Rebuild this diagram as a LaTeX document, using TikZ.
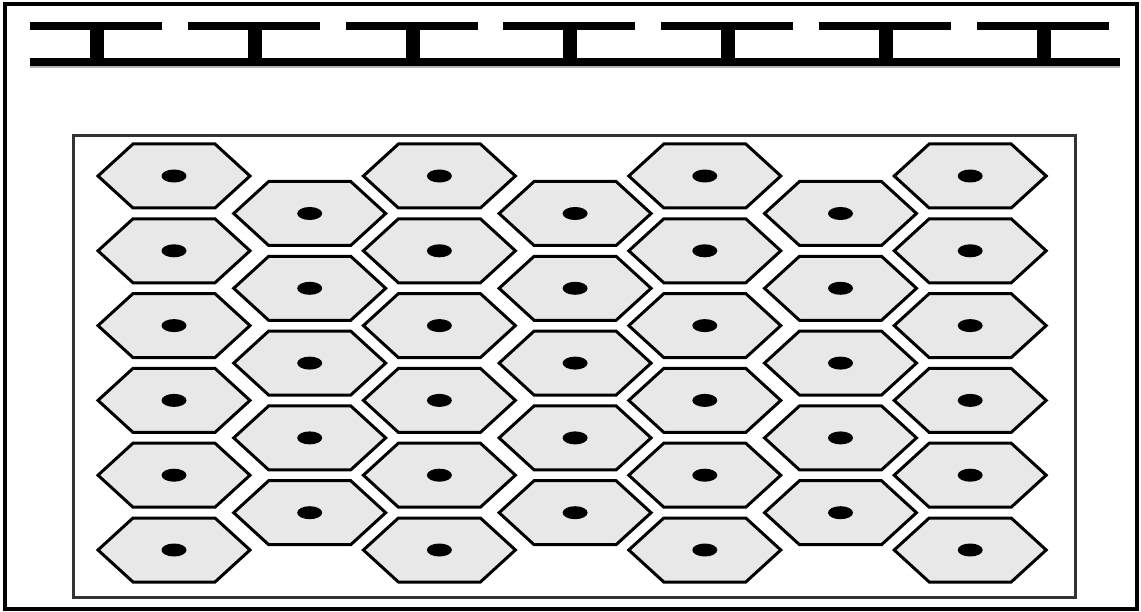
\documentclass[tikz,border=0pt]{standalone}
\usepackage{tikz}
\tikzset{
  frame/.style={draw=black, line width=3.4pt},
  innerbox/.style={draw=black!80, line width=3pt},
  cellline/.style={draw=black, line width=3pt, fill=black!9, line join=miter},
  hexcell/.pic={
    \draw[cellline] (-76,0) -- (-41,-32) -- (41,-32) -- (76,0) -- (41,32) -- (-41,32) -- cycle;
    \fill[black] (0,0) ellipse (12.5pt and 6.5pt);
  }
}

\begin{document}
\begin{tikzpicture}[x=1pt, y=-1pt]
  \useasboundingbox (0,0) rectangle (1141,612);
  % outer frame
  \draw[frame] (5,4) rectangle (1137,609);
  % rail at the top
  \foreach \i in {0,...,6} {
    \fill (30+157.8*\i,22) rectangle ++(132,8);
    \fill (90+157.8*\i,30) rectangle ++(14,29);
  }
  \fill (30,58) rectangle (1120,66);
  \fill[black!30] (30,66) rectangle (1120,68);
  % inner box
  \draw[innerbox] (73,136) rectangle (1075,597);
  % cells, long columns
  \foreach \c in {0,2,4,6}
    \foreach \r in {0,...,5}
      \pic at ({174+132.7*\c},{176+74.8*\r}) {hexcell};
  % cells, short columns
  \foreach \c in {1,3,5}
    \foreach \r in {0,...,4}
      \pic at ({177+132.7*\c},{213.5+74.8*\r}) {hexcell};
\end{tikzpicture}
\end{document}
